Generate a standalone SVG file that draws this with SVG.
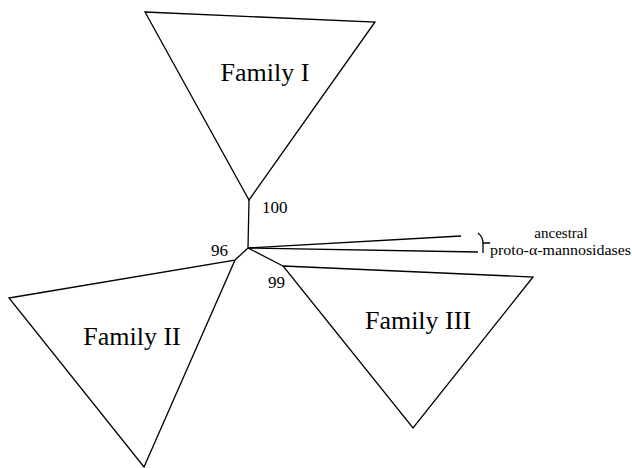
<svg xmlns="http://www.w3.org/2000/svg" width="632" height="468" viewBox="0 0 632 468">
<style>
.ln{fill:none;stroke:#000;stroke-width:1.3;stroke-linejoin:miter}
.fam{font-family:"Liberation Serif","Times New Roman",serif;font-size:26px;fill:#000;text-anchor:middle}
.bs{font-family:"Liberation Serif","Times New Roman",serif;font-size:17px;fill:#000}
.an{font-family:"Liberation Serif","Times New Roman",serif;font-size:15px;fill:#000}
</style>
<rect width="632" height="468" fill="#fff"/>
<g id="connectors">
<polyline class="ln" points="249,200 248,248"/>
<polyline class="ln" points="248,248 235,260"/>
<polyline class="ln" points="248,248 283,266"/>
<polyline class="ln" points="248,248 461,236"/>
<polyline class="ln" points="248,248 478,252"/>
</g>
<g id="family-1">
<polygon class="ln" points="145,12 375,22 249,200"/>
<text class="fam" x="265" y="81">Family I</text>
</g>
<g id="family-2">
<polygon class="ln" points="9,298 235,260 144,467"/>
<text class="fam" x="132" y="345">Family II</text>
</g>
<g id="family-3">
<polygon class="ln" points="283,266 533,277 413,428"/>
<text class="fam" x="418" y="329">Family III</text>
</g>
<g id="ancestral">
<path class="ln" d="M478,233 Q483,237 483,243 L483,253 M483,243 L490,243"/>
<text class="an" x="561" y="238" text-anchor="middle">ancestral</text>
<text class="an" x="490" y="255" textLength="141" lengthAdjust="spacingAndGlyphs">proto-α-mannosidases</text>
</g>
<g id="bootstrap">
<text class="bs" x="262" y="213">100</text>
<text class="bs" x="211" y="256">96</text>
<text class="bs" x="268" y="288">99</text>
</g>
</svg>
